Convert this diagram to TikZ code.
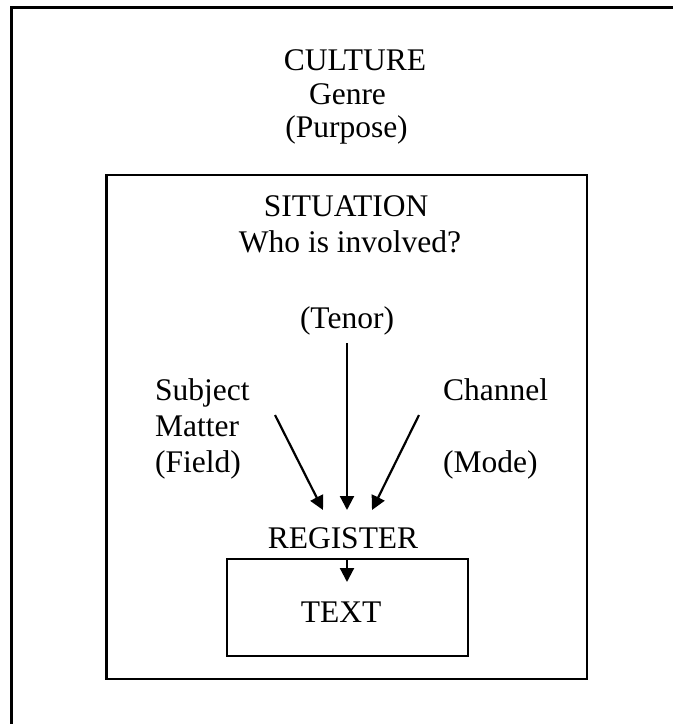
\documentclass[tikz,border=0pt]{standalone}
\usepackage{fontspec}
\setmainfont{Liberation Serif}
\usetikzlibrary{arrows.meta}
\begin{document}
\begin{tikzpicture}[x=1pt,y=-1pt,
  lbl/.style={anchor=base,inner sep=0pt,font=\fontsize{31.5}{35}\selectfont},
  lbll/.style={anchor=base west,inner sep=0pt,font=\fontsize{31.5}{35}\selectfont},
  frame/.style={draw,line width=2.6pt},
  arr/.style={draw,line width=2.2pt,-{Triangle[length=14pt,width=14pt]}}]
\useasboundingbox (0,0) rectangle (673,724);
% outer frame (clipped at right and bottom)
\draw[frame] (673,7.5) -- (11.5,7.5) -- (11.5,724);
\node[lbl] (culture) at (355,70) {CULTURE};
\node[lbl] (genre) at (347.5,104) {Genre};
\node[lbl] (purpose) at (346.5,137) {(Purpose)};
% situation box
\draw[frame] (106.5,175) rectangle (587,679);
\node[lbl] (situation) at (346,216.5) {SITUATION};
\node[lbl] (who) at (350,252.5) {Who is involved?};
\node[lbl] (tenor) at (347,328) {(Tenor)};
\node[lbll] (subject) at (155,400) {Subject};
\node[lbll] (matter) at (155,436) {Matter};
\node[lbll] (field) at (155,472) {(Field)};
\node[lbll] (channel) at (443,400) {Channel};
\node[lbll] (mode) at (443,472) {(Mode)};
\node[lbl] (register) at (343,548) {REGISTER};
% text box
\node[draw,line width=2.2pt,minimum width=241pt,minimum height=97pt,inner sep=0pt] (textbox) at (347.5,607.5) {};
\node[lbl] (text) at (341,622) {TEXT};
% arrows
\coordinate (tenorS) at (347,343);
\coordinate (tenorE) at (347,510);
\coordinate (fieldS) at (275,415);
\coordinate (fieldE) at (323,510);
\coordinate (modeS) at (419,415);
\coordinate (modeE) at (372,510);
\coordinate (regS) at (347,558);
\coordinate (regE) at (347,582);
\draw[arr] (tenorS) -- (tenorE);
\draw[arr] (fieldS) -- (fieldE);
\draw[arr] (modeS) -- (modeE);
\draw[arr] (regS) -- (regE);
\end{tikzpicture}
\end{document}
